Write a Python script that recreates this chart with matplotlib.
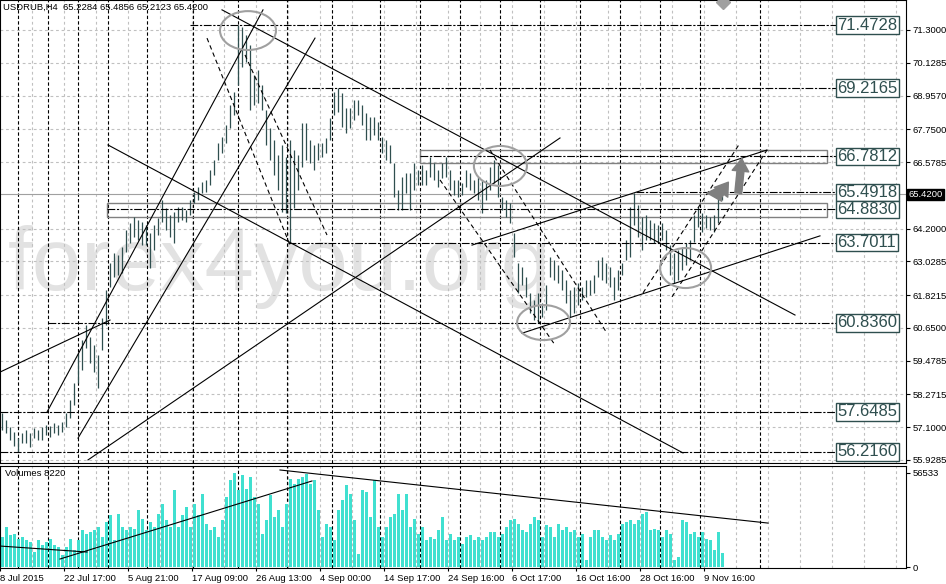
import matplotlib
matplotlib.use("Agg")
import matplotlib.pyplot as plt
from matplotlib.patches import Ellipse, Rectangle
from matplotlib.transforms import blended_transform_factory

plt.rcParams['font.family'] = ['Liberation Sans', 'DejaVu Sans']

# H4 bars, high / low
highs = [
    57.61, 57.36, 57.11, 56.93, 56.71, 56.89, 57.00, 56.89, 57.07, 57.00,
    57.11, 57.18, 57.14, 57.25, 57.18, 57.29, 57.61, 58.07, 58.68, 59.75,
    60.22, 60.75, 60.32, 60.04, 59.68, 61.00, 62.01, 62.97, 63.33, 63.26,
    63.54, 64.15, 64.40, 64.61, 64.51, 64.44, 64.33, 64.04, 64.33, 64.58,
    65.22, 64.94, 64.69, 64.79, 64.97, 64.97, 64.87, 65.22, 65.51, 65.69,
    65.87, 65.94, 66.29, 66.65, 67.26, 67.47, 67.90, 68.62, 69.08, 71.48,
    71.41, 71.12, 70.76, 69.69, 69.87, 69.33, 68.44, 67.80, 67.37, 66.83,
    67.19, 66.76, 67.37, 67.01, 66.83, 67.97, 67.97, 67.37, 67.19, 67.26,
    67.26, 67.44, 68.15, 69.08, 69.23, 69.05, 68.51, 68.51, 68.80, 68.80,
    68.62, 68.33, 68.19, 68.19, 68.01, 67.47, 67.37, 67.19, 66.54, 65.58,
    66.04, 66.19, 66.19, 66.54, 66.29, 66.47, 66.29, 66.76, 66.54, 66.29,
    66.54, 66.76, 66.29, 65.94, 65.94, 65.83, 66.29, 66.19, 65.94, 66.04,
    65.94, 65.94, 66.40, 66.65, 66.47, 65.33, 65.22, 65.12, 64.04, 62.97,
    62.83, 62.47, 61.90, 61.65, 61.90, 61.54, 62.18, 63.19, 63.08, 62.90,
    62.72, 62.36, 62.01, 62.11, 62.25, 62.11, 62.36, 62.36, 62.54, 63.08,
    63.19, 62.97, 62.83, 62.47, 62.72, 62.97, 63.79, 64.97, 65.47, 65.04,
    64.61, 64.69, 64.51, 64.40, 64.33, 64.40, 64.15, 63.61, 63.33, 63.44,
    63.54, 63.68, 63.79, 64.69, 64.97, 64.76, 64.69, 64.61, 64.69, 65.33,
    65.49,
]
lows = [
    57.00, 56.89, 56.64, 56.43, 56.21, 56.53, 56.53, 56.39, 56.71, 56.64,
    56.64, 56.82, 56.75, 56.89, 56.82, 56.93, 57.11, 57.43, 57.89, 58.68,
    59.15, 59.93, 59.40, 59.07, 58.50, 59.86, 60.75, 62.11, 62.47, 62.54,
    62.61, 63.36, 63.68, 63.90, 63.79, 63.61, 63.61, 62.79, 63.44, 63.97,
    64.44, 64.15, 63.90, 63.68, 64.44, 64.51, 64.44, 64.69, 65.12, 65.22,
    65.47, 65.51, 65.76, 66.12, 66.65, 66.90, 67.26, 67.80, 68.26, 69.33,
    69.98, 70.16, 68.44, 68.62, 68.69, 68.44, 67.19, 66.65, 66.12, 65.58,
    64.79, 64.76, 63.68, 64.94, 65.58, 66.40, 66.65, 66.54, 66.29, 66.65,
    66.76, 66.90, 67.37, 68.26, 68.37, 67.83, 67.62, 67.80, 68.08, 68.26,
    67.90, 67.37, 67.37, 67.55, 67.37, 66.90, 66.65, 66.54, 65.33, 64.87,
    64.87, 65.47, 64.87, 65.58, 65.76, 65.76, 65.76, 66.04, 65.94, 65.69,
    66.01, 66.04, 65.58, 65.40, 65.33, 65.40, 65.69, 65.58, 65.47, 65.22,
    64.76, 65.22, 65.58, 65.83, 65.33, 64.87, 64.61, 64.40, 63.19, 61.90,
    62.18, 61.76, 61.18, 60.93, 60.82, 61.04, 61.29, 62.47, 62.36, 62.25,
    62.01, 61.54, 61.04, 61.18, 61.47, 61.65, 61.76, 61.83, 61.90, 62.47,
    62.36, 62.25, 62.11, 61.65, 62.01, 62.54, 63.08, 63.19, 64.33, 63.90,
    63.44, 63.79, 63.79, 63.68, 63.68, 63.79, 63.44, 62.54, 62.25, 62.36,
    62.72, 62.90, 63.08, 63.72, 64.26, 64.08, 64.22, 64.15, 64.08, 64.40,
    65.21,
]
volumes = [
    18000, 24000, 19000, 20000, 17000, 18000, 16000, 15000, 9000, 16000,
    13000, 15000, 17000, 13000, 12000, 7000, 12000, 17000, 10000, 16000,
    22000, 20000, 21000, 22000, 24000, 18000, 27000, 31000, 16000, 32000,
    24000, 22000, 24000, 23000, 34000, 29000, 22000, 27000, 24000, 32000,
    38000, 28000, 24000, 46000, 24000, 31000, 36000, 24000, 38000, 31000,
    44000, 26000, 22000, 24000, 18000, 28000, 42000, 52000, 56533, 46000,
    55000, 47000, 54000, 42000, 38000, 20000, 28000, 43000, 30000, 34000,
    24000, 38000, 53000, 50000, 53000, 54000, 56000, 50000, 52000, 34000,
    18000, 26000, 24000, 16000, 34000, 40000, 49000, 44000, 28000, 8000,
    46000, 45000, 30000, 52000, 24000, 18000, 24000, 30000, 32000, 44000,
    34000, 44000, 24000, 29000, 20000, 24000, 16000, 18000, 17000, 22000,
    30000, 16000, 20000, 16000, 18000, 14000, 18000, 19000, 16000, 18000,
    16000, 18000, 21000, 21000, 18000, 20000, 24000, 28000, 29000, 26000,
    22000, 21000, 26000, 30000, 28000, 18000, 25000, 24000, 18000, 26000,
    22000, 24000, 21000, 22000, 18000, 20000, 4000, 18000, 22000, 22000,
    18000, 16000, 19000, 16000, 20000, 26000, 27000, 28000, 26000, 28000,
    32000, 33000, 22000, 23000, 22000, 18000, 22000, 20000, 4000, 6000,
    28000, 27000, 20000, 21000, 18000, 21000, 17000, 16000, 10000, 21000,
    8220,
]

price_ticks = [71.3, 70.1285, 68.957, 67.75, 66.5785, 64.2, 63.0285,
               61.8215, 60.65, 59.4785, 58.2715, 57.1, 55.9285]
time_labels = ["8 Jul 2015", "22 Jul 17:00", "5 Aug 21:00", "17 Aug 09:00",
               "26 Aug 13:00", "4 Sep 00:00", "14 Sep 17:00", "24 Sep 16:00",
               "6 Oct 17:00", "16 Oct 16:00", "28 Oct 16:00", "9 Nov 16:00"]
last_price = 65.42
max_volume = 56533
last_volume = 8220

# horizontal levels: price, bar where the line starts
levels = [71.4728, 69.2165, 66.7812, 65.4918, 64.8830, 63.7011, 60.8360, 57.6485, 56.2160]
level_start = [47, 70.75, 104.5, 158.5, 26.25, 71.5, 11.5, -0.5, -0.5]

# week separators (bar index)
separators = [4, 11.5, 19, 26.5, 36.25, 47.75, 59, 71.25, 82.5, 94.5, 104.5,
              114.5, 124.5, 134.5, 144.5, 154.5, 164.5, 174.5, 189.5]

# trend lines: (bar0, price0, bar1, price1)
solid_lines = [
    (-0.5, 59.07, 27, 60.93),
    (11.25, 57.64, 65.25, 72.02),
    (19, 56.71, 78.25, 71.01),
    (21.5, 55.93, 139.5, 67.44),
    (55, 72.02, 198.25, 61.11),
    (26.5, 67.19, 170.25, 56.18),
    (117.5, 63.61, 191.25, 67.01),
    (130, 60.46, 204.5, 63.94),
]
dashed_lines = [
    (51.25, 71.01, 72, 63.61),
    (60.75, 70.41, 81.25, 63.97),
    (109.5, 65.94, 138.25, 60.04),
    (122, 67.01, 151.25, 60.46),
    (160.25, 61.90, 184.5, 67.26),
    (167.5, 61.76, 191.25, 67.01),
]
volume_lines = [
    (-0.5, 12600, 21.25, 9000),
    (14.5, 4800, 77.5, 51700),
    (69.5, 58300, 191.5, 26400),
]
# ellipses: bar, price, width (bars), height (price)
ellipses = [(61.5, 71.28, 14, 1.39), (124.6, 66.44, 13.25, 1.43),
            (135.4, 60.84, 13.25, 1.25), (170.9, 62.79, 12.75, 1.43)]
# boxes: bar0, bar1, price low, price high
boxes = [(104.5, 206.25, 66.54, 67.01), (26.25, 206.25, 64.61, 65.12)]

n = len(highs)
idx = list(range(n))

W, H = 946, 584
fig = plt.figure(figsize=(W / 100, H / 100), dpi=100)
ax = fig.add_axes([0, 1 - 463 / H, 906 / W, 463 / H])
axv = fig.add_axes([0, 16 / H, 906 / W, 102 / H])

teal = '#2F4F4F'
grid_c = '#c0c0c0'
dashdot = (0, (7, 1.5, 2, 1.5))

for a in (ax, axv):
    a.set_xlim(-0.5, 226)
    for s in a.spines.values():
        s.set_color('black')
        s.set_linewidth(0.8)
    for k in range(1, 29):
        a.axvline(8 * k - 0.5, color=grid_c, lw=0.8, ls=(0, (2.5, 2.5)), zorder=0.6)
    for s in separators:
        a.axvline(s, color='black', lw=0.8, ls=(0, (3, 2)), zorder=1)

ax.set_ylim(55.82, 72.3725)
for p in price_ticks:
    ax.axhline(p, color=grid_c, lw=0.8, ls=(0, (2.5, 2.5)), zorder=0.6)

ax.text(0.009, 0.374, 'forex4you.org', transform=ax.transAxes, fontsize=64,
        color='#e2e2e2', ha='left', va='baseline', zorder=0.5)

ax.axhline(last_price, color='#a0a0a0', lw=0.8, zorder=1.2)

for b0, b1, lo, hi in boxes:
    ax.add_patch(Rectangle((b0, lo), b1 - b0, hi - lo, fill=False,
                           ec='#808080', lw=1, zorder=1.5))

ax.vlines(idx, lows, highs, color=teal, lw=0.9, zorder=2)

for x0, y0, x1, y1 in solid_lines:
    ax.plot([x0, x1], [y0, y1], color='black', lw=0.8, zorder=3)
for x0, y0, x1, y1 in dashed_lines:
    ax.plot([x0, x1], [y0, y1], color='black', lw=0.8, ls=(0, (4, 3)), zorder=3)

for lv, st in zip(levels, level_start):
    ax.plot([st, 208.5], [lv, lv], color='black', lw=0.8, ls=dashdot, zorder=3)
    ax.text(208.9, lv, f'{lv:.4f}', fontsize=12, color=teal, ha='left', va='center',
            zorder=5, bbox=dict(boxstyle='square,pad=0.08', fc='white', ec=teal, lw=1))

for cx, cy, w, h in ellipses:
    ax.add_patch(Ellipse((cx, cy), w, h, fill=False, ec='#a0a0a0', lw=1.5, zorder=4))

arrow_kw = dict(arrowstyle='simple,head_width=1.2,head_length=0.9,tail_width=0.5',
                fc='#7f7f7f', ec='#7f7f7f', mutation_scale=10)
ax.annotate('', xy=(182, 65.94), xytext=(178.5, 65.25), arrowprops=arrow_kw, zorder=4)
ax.annotate('', xy=(180, 65.80), xytext=(178, 65.30), arrowprops=arrow_kw, zorder=4)
ax.annotate('', xy=(185, 66.80), xytext=(184, 65.37), arrowprops=arrow_kw, zorder=4)
ax.plot([180.25], [72.30], marker='D', color='#a0a0a0', ms=7, zorder=4)

ax.yaxis.tick_right()
ax.set_yticks(price_ticks)
ax.set_yticklabels([f'{p:.4f}' for p in price_ticks])
ax.tick_params(axis='y', length=3, pad=2, labelsize=6.8, colors='black')
ax.set_xticks([])

tr = blended_transform_factory(ax.transAxes, ax.transData)
ax.text(1.003, last_price, f'{last_price:.4f}', transform=tr, fontsize=6.8,
        color='white', ha='left', va='center',
        bbox=dict(boxstyle='square,pad=0.15', fc='black', ec='black'))

# volumes
axv.set_ylim(-600, 60700)
axv.bar(idx, volumes, width=0.75, color='#40E0D0', zorder=2)
for x0, y0, x1, y1 in volume_lines:
    axv.plot([x0, x1], [y0, y1], color='black', lw=0.8, zorder=3)
axv.yaxis.tick_right()
axv.set_yticks([0, max_volume])
axv.set_yticklabels(['0', str(max_volume)])
axv.tick_params(axis='y', length=3, pad=2, labelsize=6.8)
axv.set_xticks([16 * k - 0.5 for k in range(len(time_labels))])
axv.set_xticklabels(time_labels)
for lbl in axv.get_xticklabels():
    lbl.set_horizontalalignment('left')
axv.tick_params(axis='x', length=2, pad=2, labelsize=6.8)
axv.text(0.005, 0.93, f'Volumes {last_volume}', transform=axv.transAxes,
         fontsize=6.8, ha='left', va='center')

fig.text(3 / W, 1 - 7 / H, 'USDRUB,H4  65.2284 65.4856 65.2123 65.4200',
         fontsize=6.8, ha='left', va='center')

fig.savefig('out.png', dpi=100, facecolor='white')
